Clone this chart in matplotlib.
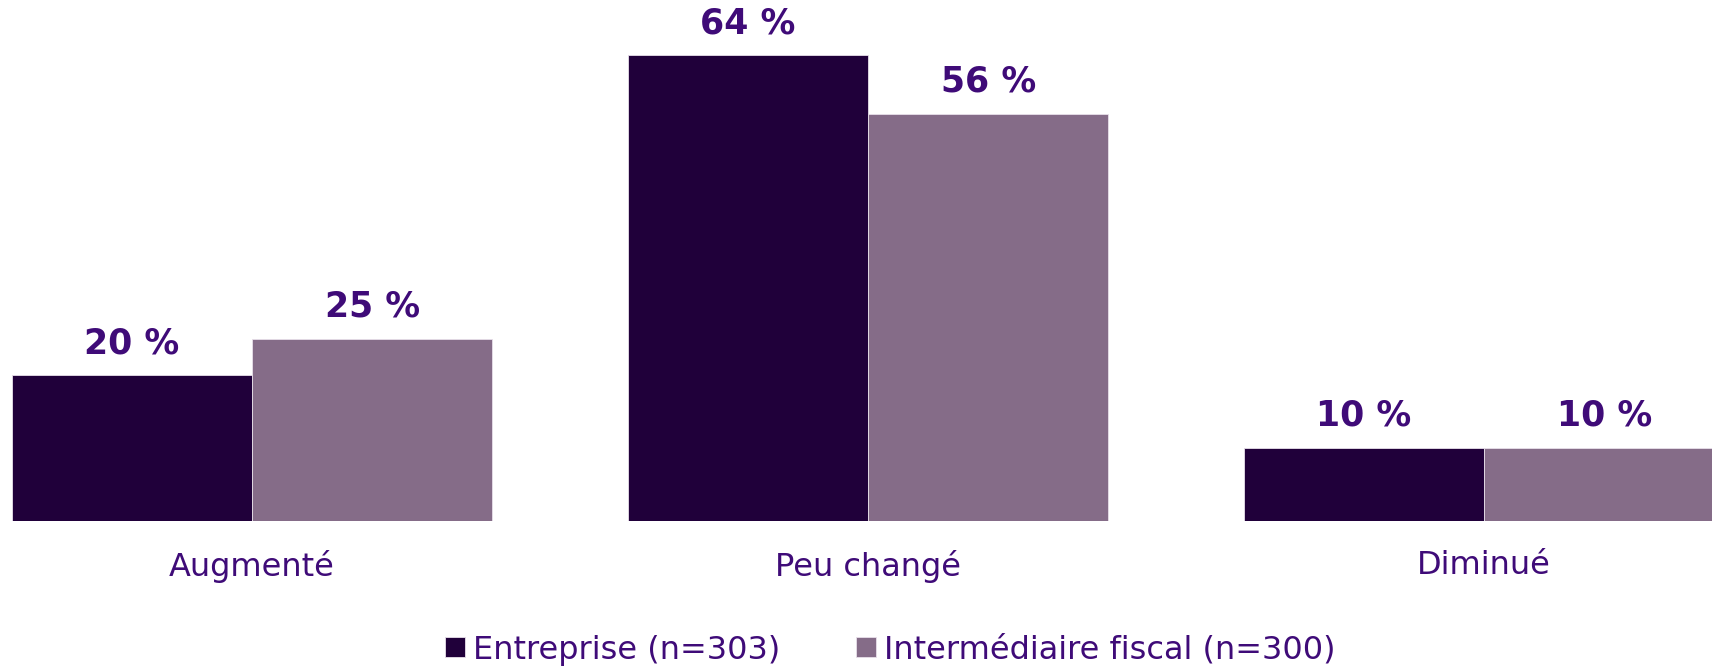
import matplotlib
matplotlib.use("Agg")
import matplotlib.pyplot as plt
import numpy as np

categories = ["Augmenté", "Peu changé", "Diminué"]
entreprise = [20, 64, 10]
intermediaire = [25, 56, 10]
series_names = ["Entreprise (n=303)", "Intermédiaire fiscal (n=300)"]

dark = "#20003A"
light = "#856C88"
text_col = "#3F0B78"

fig = plt.figure(figsize=(17.12, 6.67), dpi=100)
ax = fig.add_axes([0, 1 - 521 / 667, 1, 521 / 667])

x = np.arange(len(categories))
w = 0.39
b1 = ax.bar(x - w / 2, entreprise, w, color=dark, edgecolor="#e8e0ea", linewidth=0.6, label=series_names[0])
b2 = ax.bar(x + w / 2, intermediaire, w, color=light, edgecolor="#e8e0ea", linewidth=0.6, label=series_names[1])

for bars in (b1, b2):
    ax.bar_label(bars, labels=[f"{v} %" for v in bars.datavalues], padding=11,
                 fontsize=25, fontweight="bold", color=text_col)

ax.set_xlim(-0.409, 2.37)
ax.set_ylim(0, 71.6)
ax.set_xticks(x)
ax.set_xticklabels(categories, fontsize=23, color=text_col)
ax.tick_params(axis="x", length=0, pad=21)
ax.set_yticks([])
for s in ax.spines.values():
    s.set_visible(False)

fig.legend(loc="center", bbox_to_anchor=(0.52, 1 - 650 / 667), ncol=2, frameon=False,
           fontsize=23, labelcolor=text_col, handlelength=0.6, handleheight=0.6,
           handletextpad=0.25, columnspacing=2.4)

fig.savefig("out.png", dpi=100)
